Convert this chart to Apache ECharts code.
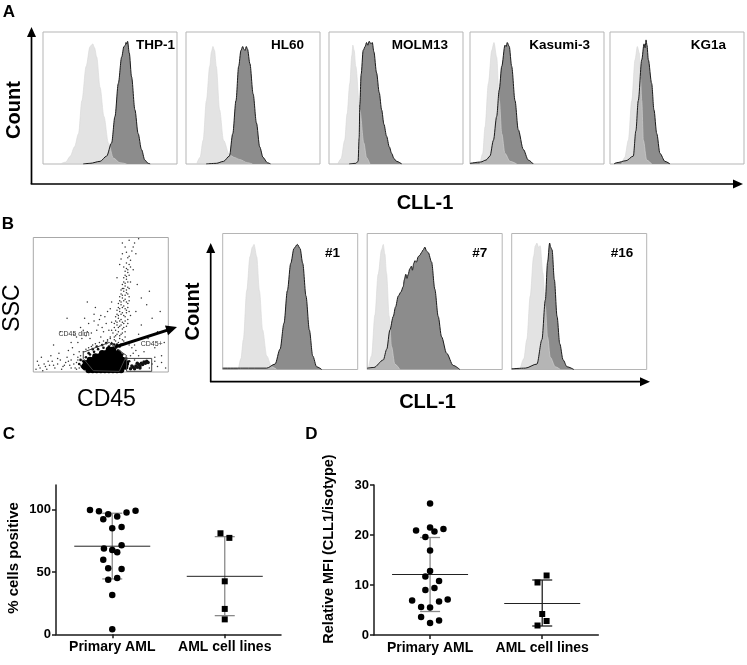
<!DOCTYPE html>
<html><head><meta charset="utf-8">
<script src="https://cdn.jsdelivr.net/npm/echarts@6/dist/echarts.min.js"></script>
<style>html,body{margin:0;padding:0;background:#fff}#c{width:747px;height:665px}</style>
</head><body><div id="c"></div>
<script>
// ---------------- DATA ----------------
// Panel A histograms: [CLL-1 fluorescence (% of axis), count (% of max)]
const thp1Iso  = [[12.9,0],[17,1.5],[20.3,5.8],[23.5,13],[26.5,23],[29,48],[32.2,74],[35.1,89],[37.1,91],[38.5,88],[40.1,81],[42.6,58],[45.5,36],[48.8,16],[52.5,4.5],[57.4,1],[62.4,0]];
const thp1Cll1 = [[30,0],[35.1,0.5],[42.6,2],[47.5,6],[51.2,16],[53.7,36],[56.2,61],[58.7,81],[60.4,89],[61.5,90],[61.9,92],[62.5,91],[63.1,93],[64.4,84],[66.1,66],[68.6,41],[71,23],[73.5,11],[76,3],[78.5,0.5],[80,0]];
const hl60Iso  = [[7.9,0],[10.5,5],[12.8,18],[15.2,48],[17.7,74],[19,85],[20.1,89],[21.3,86],[22.6,74],[25.1,41],[28,18],[32.4,7],[36,5],[39.8,3.5],[45.9,1],[49.6,0]];
const hl60Cll1 = [[15,0],[22.6,0.5],[28,2],[32.4,6],[34.9,23],[37.3,48],[39.3,74],[41,86],[42.3,89],[43.2,87],[44,86],[45,89],[45.9,87],[47.7,76],[50.1,53],[52.6,31],[55,13],[57.5,5],[60.7,1],[63.1,0]];
const molm13Iso  = [[6.5,0],[9,4],[11.7,18],[13.5,38],[15.5,61],[17,82],[17.8,90],[18.8,86],[20,74],[23,41],[26,16],[28,5],[30.5,0]];
const molm13Cll1 = [[15,0],[20,0.5],[21.7,2],[22.5,20],[23,45],[24,68],[25.5,86],[27,89],[28,92],[29,90],[30,93],[31.3,91],[32.3,92],[33.5,85],[35.5,69],[37.5,54],[39.3,41],[41,30],[43,21],[45,13],[46.8,8],[48.5,4],[50.5,2],[54.3,0]];
const kasumi3Iso  = [[7.5,0],[9.5,8],[11.2,28],[13.7,61],[16.2,86],[17.9,92],[19.9,81],[21.9,48],[23.7,23],[26.1,8],[29.9,2],[34.9,0]];
const kasumi3Cll1 = [[0,0.5],[8,1.5],[12,3],[14.9,6],[17.5,18],[19.9,36],[21.8,56],[23.7,74],[26.1,90],[27,89],[27.8,92],[29.3,89],[31.1,74],[33.6,48],[36,26],[39.8,11],[43.5,3],[47.2,0]];
const kg1aIso  = [[8.7,0],[11,5],[13.7,18],[16.2,48],[18.7,79],[20.4,89],[21.9,84],[22.8,65],[23.7,48],[24.9,18],[27.4,3],[31.1,0]];
const kg1aCll1 = [[3,0],[5,1],[12,2.5],[17.4,6],[19.3,25],[21.1,48],[23.7,79],[25.4,91],[26.2,88],[26.9,94],[27.6,90],[28.6,79],[31.1,61],[32.8,41],[34.9,23],[37.3,8],[41,2],[44.8,0]];
const cellLineNames = ['THP-1','HL60','MOLM13','Kasumi-3','KG1a'];

// Panel B patient histograms
const p1Iso  = [[11.6,0],[13.5,8],[15.3,22],[17.8,58],[20.2,83],[22,90],[23.2,92],[25.2,83],[27.2,58],[29.6,29],[32.6,10],[36.3,2],[40,0]];
const p1Cll1 = [[0,1],[15,1],[32.6,1],[38.8,4],[42.5,15],[45.4,34],[47.9,58],[50.4,78],[52.8,89],[55.3,92],[57.3,89],[59.3,78],[61.7,54],[64.2,29],[66.7,10],[69.6,2],[73.3,0]];
const p7Iso  = [[0.7,0],[3.2,10],[5.7,40],[8.1,70],[10.6,88],[11.9,92],[13.1,85],[14.3,71],[16.3,39],[18,17],[20.5,4],[24.2,0]];
const p7Cll1 = [[0,1],[5,1.5],[11.9,7],[14.5,15],[16.8,29],[19.3,39],[21,46],[23,54],[25,57],[26.7,61],[27.5,66],[28.6,70],[29.5,67],[30.4,70],[31.5,74],[32.8,76],[33.5,73],[34.5,78],[35.3,80],[36.5,79],[37.8,83],[39,84],[40.2,86],[41.5,88],[42.7,90],[44,87],[45.2,86],[47.7,79],[50.1,59],[52.6,39],[55.1,24],[58.8,12],[63.7,3],[68.6,0]];
const p16Iso  = [[6.2,0],[9,8],[11.2,22],[13.7,54],[16.2,83],[17.5,91],[18.7,93],[19.8,90],[21.1,91],[23.1,71],[24.9,46],[26.6,24],[28.6,9],[32.3,2],[36,0]];
const p16Cll1 = [[0,0.5],[10,1],[18.7,4],[22.4,22],[24.9,51],[26.6,79],[28.1,93],[28.8,90],[29.9,88],[31.6,66],[33.6,39],[35.6,19],[38.1,7],[41,2],[46,0]];
const patientNames = ['#1','#7','#16'];

// Panel B dot plot (CD45 %, SSC %)
const dotsSparse = [[58,22],[60,24],[62,21],[64,25],[61,27],[59,29],[63,30],[65,28],[66,32],[60,33],[62,35],[64,34],[67,36],[61,38],[63,40],[65,39],[68,41],[62,43],[64,45],[66,44],[69,46],[63,48],[65,50],[67,49],[70,51],[64,53],[66,55],[68,54],[65,58],[67,60],[69,59],[66,62],[68,64],[70,63],[67,67],[69,69],[68,72],[70,74],[69,77],[71,80],[57,26],[56,31],[58,37],[71,56],[72,42],[70,36],[68,26],[66,24],[55,23],[72,67],
  [70,85],[73,90],[68,93],[75,96],[72,83],[66,88],[78,99],[64,80],[74,76],[62,70],
  [5,3],[8,6],[10,2],[12,5],[14,8],[16,3],[18,6],[20,9],[22,4],[24,7],[25,11],[27,5],[28,9],[30,13],[31,3],[32,7],[33,11],[34,15],[35,5],[36,9],[3,8],[6,11],[13,12],[19,14],[26,16],[29,18],
  [30,28],[35,33],[40,30],[45,38],[42,25],[48,35],[50,42],[38,40],[52,30],[46,48],[40,52],[55,45],[33,22],[44,20],[50,26],[20,30],[25,40],[15,20],
  [75,20],[78,28],[80,35],[82,15],[85,25],[88,40],[90,18],[92,30],[95,12],[76,45],[80,55],[84,50],[97,22],[94,45],[86,60],[77,65],[90,8],[78,12],
  [57,20],[59,21],[61,23],[63,22],[65,21],[67,23],[60,26],[62,28],[64,27],[66,29],[68,30],[58,31],[61,31],[63,33],[65,35],[67,33],[69,34],[60,36],[62,37],[64,38],[66,37],[68,38],[70,39],[61,41],[63,42],[65,43],[67,42],[69,44],[71,45],[62,46],[64,47],[66,48],[68,47],[70,48],[63,51],[65,52],[67,53],[69,52],[71,53],[64,56],[66,57],[68,57],[70,58],[65,61],[67,62],[69,61],[71,62],[66,65],[68,66],[70,67],[67,70],[69,71],[71,72],[68,75],[70,76],[69,81],[72,78],[67,78],[71,86],[69,89],[74,93],[66,96],[71,98],[76,88],[65,84],
  [32,2],[34,3],[30,6],[33,9],[35,12],[37,15],[39,17],[41,18],[43,19],[46,21],[49,22],[52,23],[55,24],[57,25],[28,3],[26,8],[23,5],[21,2],[18,10],[15,5],[11,8],[9,4],[7,1],[4,5],[2,2],
  [72,12],[74,14],[76,16],[73,18],[71,20],[75,9],[86,3],[88,6],[90,11],[92,4],[95,7],[98,3],
  [36,25],[39,27],[43,29],[47,31],[51,33],[54,36],[41,36],[37,31],[32,26],[28,22],[49,39],[53,41],[45,43],[57,47],[58,52]];
const dotsHalo = [[36,4],[37,8],[39,11],[42,13],[45,15],[48,17],[52,18],[56,19],[60,18],[63,16],[66,13],[69,10],[70,6],[69,3],[66,1.5],[38,2],[34,6],[41,14],[51,20],[58,21],[62,20],[54,21.5],[47,19],[64,19],[60,20.5],[35,9],[71,8],[44,17]];
const dotsCore = [[41,1.5],[44,1.5],[47,1.5],[50,1.5],[53,1.5],[56,1.5],[59,1.5],[62,1.5],[65,1.5],
  [38,4],[41,4],[44,4],[47,4],[50,4],[53,4],[56,4],[59,4],[62,4],[65,4],[68,4],
  [39,6.5],[42,6.5],[45,6.5],[48,6.5],[51,6.5],[54,6.5],[57,6.5],[60,6.5],[63,6.5],[66,6.5],[68.5,6.5],
  [42,9],[45,9],[48,9],[51,9],[54,9],[57,9],[60,9],[63,9],[66,9],
  [46,11.5],[49,11.5],[52,11.5],[55,11.5],[58,11.5],[61,11.5],[64,11.5],
  [51,14],[54,14],[57,14],[60,14],[63,14],[56,16.5],[59,16.5]];
const dotsCD45pos = [[72,2.5],[74,3.5],[76,4.5],[78,5.5],[80,6.5],[82,7.5],[84,8],[75,2.5],[77,3.5],[79,4.5],[81,5.5],[83,6.5],[73,4.5],[77,6.5],[85,7],[79,3]];
const gateDim = [[37,14.7],[56.3,22],[61.2,17.7],[69.1,12.2],[63.7,0.5],[44.4,1],[37,10.1],[37,14.7]];
const gatePos = [[69.1,0.5],[87.7,0.5],[87.7,10.1],[69.1,10.1],[69.1,0.5]];

// Panel C / D
const groups = ['Primary AML','AML cell lines'];
const pctPrimaryX = [0.302,0.382,0.464,0.42,0.544,0.627,0.707,0.5,0.583,0.426,0.5,0.544,0.583,0.42,0.464,0.583,0.464,0.544,0.5,0.5];
const pctPrimary  = [100,99,96.5,92.5,94.6,97.8,99.4,85.3,86.3,68.9,67.8,66,71.6,60,53.1,52.5,43.9,45.3,31.6,4];
const pctLinesX = [1.462,1.541,1.5,1.5,1.5];
const pctLines  = [81.2,77.5,42.6,20.4,12];
const pctCenter = [70.8,46.6];
const pctLow    = [44.5,15];
const pctHigh   = [97.3,78.5];

const mfiPrimaryX = [0.5,0.375,0.5,0.539,0.619,0.458,0.5,0.5,0.458,0.58,0.458,0.539,0.34,0.58,0.657,0.42,0.5,0.42,0.5,0.58];
const mfiPrimary  = [26.3,20.9,21.5,20.7,21.2,19.6,16.9,12.8,11.7,10.8,9,9.4,6.9,6.7,7.1,5.6,5.5,3.6,2.4,2.9];
const mfiLinesX = [1.539,1.458,1.5,1.539,1.458];
const mfiLines  = [11.9,10.5,4.2,2.8,1.9];
const mfiCenter = [12.1,6.3];
const mfiLow    = [4.7,1.8];
const mfiHigh   = [19.5,11];

const pctTicks = [0,50,100];
const mfiTicks = [0,10,20,30];

// ---------------- CHART ----------------
const FONT = '"Liberation Sans", Arial, Helvetica, sans-serif';
const chart = echarts.init(document.getElementById('c'), null, {renderer:'canvas'});
const grids = [], xAxis = [], yAxis = [], series = [], graphic = [];

function addHiddenGrid(l, t, w, h, border) {
  const i = grids.length;
  grids.push({left:l, top:t, width:w, height:h, show:true, borderColor: border, borderWidth:1, backgroundColor:'#fff'});
  xAxis.push({type:'value', gridIndex:i, min:0, max:100, show:false});
  yAxis.push({type:'value', gridIndex:i, min:0, max:100, show:false});
  return i;
}
function addHist(i, iso, cll1) {
  const common = {type:'line', xAxisIndex:i, yAxisIndex:i, symbol:'none', smooth:0.3, smoothMonotone:'x', silent:true, animation:false};
  series.push(Object.assign({}, common, {data:cll1, lineStyle:{width:0}, areaStyle:{color:'#8c8c8c', opacity:1}, z:1}));
  series.push(Object.assign({}, common, {data:iso, lineStyle:{width:0.6, color:'#d6d6d6'}, areaStyle:{color:'#d0d0d0', opacity:0.6}, z:2}));
  series.push(Object.assign({}, common, {data:cll1, lineStyle:{width:1, color:'#1a1a1a'}, z:3}));
}
function label(text, x, y, opts) {
  graphic.push(Object.assign({type:'text', x:x, y:y, z:100, style:Object.assign({text:text, fill:'#000', fontFamily:FONT, fontSize:13.5, fontWeight:'bold', align:'center', verticalAlign:'middle', textAlign:'center', textVerticalAlign:'middle'}, opts && opts.style || {})}, opts && opts.el || {}));
}
function arrow(x1, y1, x2, y2, w, head, half) {
  const dx = x2 - x1, dy = y2 - y1, L = Math.sqrt(dx*dx + dy*dy), ux = dx / L, uy = dy / L;
  const bx = x2 - ux * head, by = y2 - uy * head;
  graphic.push({type:'line', z:100, shape:{x1:x1, y1:y1, x2:bx + ux, y2:by + uy}, style:{stroke:'#000', lineWidth:w}});
  graphic.push({type:'polygon', z:100, shape:{points:[[x2, y2], [bx - uy*half, by + ux*half], [bx + uy*half, by - ux*half]]}, style:{fill:'#000'}});
}

// Panel A
const aIso = [thp1Iso, hl60Iso, molm13Iso, kasumi3Iso, kg1aIso];
const aCll = [thp1Cll1, hl60Cll1, molm13Cll1, kasumi3Cll1, kg1aCll1];
const aLeft = [43, 186, 329, 470, 610];
const aLabelRight = [175, 304, 448, 590, 726];
for (let k = 0; k < 5; k++) {
  const i = addHiddenGrid(aLeft[k], 32, 134, 132, '#b5b5b5');
  addHist(i, aIso[k], aCll[k]);
  label(cellLineNames[k], aLabelRight[k], 45, {style:{align:'right', textAlign:'right'}});
}
arrow(31.5, 184, 31.5, 27, 1.7, 10, 4.5);
arrow(30.7, 184, 743, 184, 1.7, 10, 4.5);
label('Count', 14, 110, {style:{fontSize:20}, el:{rotation:Math.PI/2}});
label('CLL-1', 425, 203, {style:{fontSize:20}});
label('A', 9, 12, {style:{fontSize:17}});

// Panel B histograms
const bIso = [p1Iso, p7Iso, p16Iso];
const bCll = [p1Cll1, p7Cll1, p16Cll1];
const bLeft = [222.7, 367.2, 511.7];
const bLabelRight = [340, 487.3, 633.3];
for (let k = 0; k < 3; k++) {
  const i = addHiddenGrid(bLeft[k], 233.5, 135, 136, '#b5b5b5');
  addHist(i, bIso[k], bCll[k]);
  label(patientNames[k], bLabelRight[k], 253, {style:{align:'right', textAlign:'right'}});
}
arrow(210.7, 382, 210.7, 243, 1.7, 10, 4.5);
arrow(210, 381.7, 650, 381.7, 1.7, 10, 4.5);
label('Count', 193, 311.5, {style:{fontSize:20}, el:{rotation:Math.PI/2}});
label('CLL-1', 427.5, 402, {style:{fontSize:20}});
label('B', 8, 224, {style:{fontSize:17}});

// Panel B dot plot
{
  const i = addHiddenGrid(33.3, 237.5, 135, 134.5, '#a8a8a8');
  const base = {xAxisIndex:i, yAxisIndex:i, silent:true, animation:false};
  series.push(Object.assign({type:'scatter', data:dotsSparse, symbolSize:1.5, itemStyle:{color:'#333', opacity:1}, z:2}, base));
  series.push(Object.assign({type:'scatter', data:dotsHalo, symbolSize:2.6, itemStyle:{color:'#111', opacity:1}, z:2}, base));
  series.push(Object.assign({type:'scatter', data:dotsCore, symbolSize:6.5, itemStyle:{color:'#000', opacity:1}, z:3}, base));
  series.push(Object.assign({type:'scatter', data:dotsCD45pos, symbolSize:3.5, itemStyle:{color:'#111', opacity:1}, z:3}, base));
  series.push(Object.assign({type:'line', data:gateDim, symbol:'none', lineStyle:{color:'#444', width:1}, z:4}, base));
  series.push(Object.assign({type:'line', data:gatePos, symbol:'none', lineStyle:{color:'#444', width:1}, z:4}, base));
  label('CD45 dim', 74, 334, {style:{fontSize:7, fontWeight:'normal', fill:'#333'}});
  label('CD45+', 151.7, 343.7, {style:{fontSize:7, fontWeight:'normal', fill:'#333'}});
  arrow(115, 347, 177, 327, 3, 11, 5);
  label('SSC', 13, 308, {style:{fontSize:23, fontWeight:'normal'}, el:{rotation:Math.PI/2}});
  label('CD45', 106.5, 400, {style:{fontSize:23, fontWeight:'normal'}});
}

// Panels C and D
function dotPanel(l, t, w, h, ymax, ticks, pX, pY, lX, lY, center, low, high, lineColors) {
  const i = grids.length;
  grids.push({left:l, top:t, width:w, height:h, show:false});
  const axLine = {show:true, onZero:false, lineStyle:{color:'#1a1a1a', width:1.5}};
  xAxis.push({type:'value', gridIndex:i, min:0, max:2, axisLine:axLine, splitLine:{show:false},
    axisTick:{show:true, customValues:[0.5,1.5], length:4, lineStyle:{color:'#1a1a1a', width:1.5}},
    axisLabel:{customValues:[0.5,1.5], formatter:v => groups[Math.round(v - 0.5)], color:'#000', fontFamily:FONT, fontWeight:'bold', fontSize:14, margin:6}});
  yAxis.push({type:'value', gridIndex:i, min:0, max:ymax, axisLine:axLine, splitLine:{show:false},
    axisTick:{show:true, customValues:ticks, length:4, lineStyle:{color:'#1a1a1a', width:1.5}},
    axisLabel:{customValues:ticks, color:'#000', fontFamily:FONT, fontWeight:'bold', fontSize:13, margin:5}});
  const base = {xAxisIndex:i, yAxisIndex:i, silent:true, animation:false};
  for (let g = 0; g < 2; g++) {
    const color = lineColors[g];
    series.push(Object.assign({type:'custom', z:2, data:[[g + 0.5, center[g], low[g], high[g]]],
      renderItem:(params, api) => {
        const x = api.value(0);
        const pm = api.coord([x, api.value(1)]), pl = api.coord([x, api.value(2)]), ph = api.coord([x, api.value(3)]);
        return {type:'group', children:[
          {type:'line', shape:{x1:pl[0], y1:ph[1], x2:pl[0], y2:pl[1]}, style:{stroke:color, lineWidth:1.3}},
          {type:'line', shape:{x1:ph[0]-10, y1:ph[1], x2:ph[0]+10, y2:ph[1]}, style:{stroke:color, lineWidth:1.3}},
          {type:'line', shape:{x1:pl[0]-10, y1:pl[1], x2:pl[0]+10, y2:pl[1]}, style:{stroke:color, lineWidth:1.3}},
          {type:'line', shape:{x1:pm[0]-38, y1:pm[1], x2:pm[0]+38, y2:pm[1]}, style:{stroke:'#222', lineWidth:1}}
        ]};
      }}, base));
  }
  series.push(Object.assign({type:'scatter', z:5, symbol:'circle', symbolSize:6.5, itemStyle:{color:'#000', opacity:1}, data:pX.map((x, k) => [x, pY[k]])}, base));
  series.push(Object.assign({type:'scatter', z:5, symbol:'rect', symbolSize:6, itemStyle:{color:'#000', opacity:1}, data:lX.map((x, k) => [x, lY[k]])}, base));
}
dotPanel(56, 485, 225, 149.3, 120, pctTicks, pctPrimaryX, pctPrimary, pctLinesX, pctLines, pctCenter, pctLow, pctHigh, ['#8a8a8a', '#8a8a8a']);
dotPanel(374, 485, 224.3, 150, 30, mfiTicks, mfiPrimaryX, mfiPrimary, mfiLinesX, mfiLines, mfiCenter, mfiLow, mfiHigh, ['#8a8a8a', '#222']);
label('C', 9, 434.5, {style:{fontSize:17}});
label('D', 311.5, 434.5, {style:{fontSize:17}});
label('% cells positive', 14, 558, {style:{fontSize:15}, el:{rotation:Math.PI/2}});
label('Relative MFI (CLL1/isotype)', 329, 549, {style:{fontSize:14.5}, el:{rotation:Math.PI/2}});

chart.setOption({animation:false, backgroundColor:'#fff', grid:grids, xAxis:xAxis, yAxis:yAxis, series:series, graphic:graphic});
</script></body></html>
